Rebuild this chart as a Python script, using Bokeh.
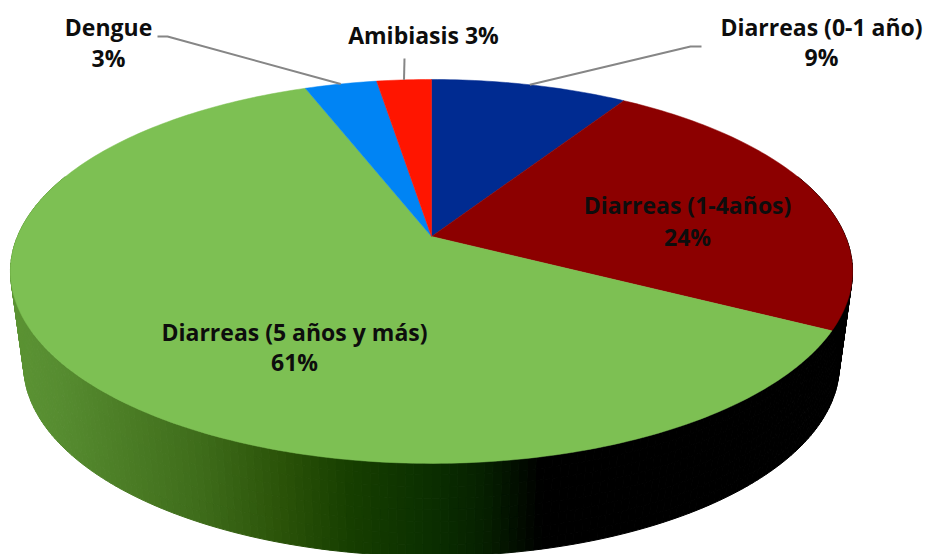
import numpy as np
from bokeh.plotting import figure
from bokeh.models import Range1d
from bokeh.core.properties import value
from bokeh.embed import file_html
from bokeh.resources import INLINE

# data, clockwise from 12 o'clock
categories = ["Diarreas (0-1 año)", "Diarreas (1-4años)", "Diarreas (5 años y más)", "Dengue", "Amibiasis"]
shares = [9.0, 23.7, 61.5, 3.3, 2.5]
percent_labels = ["9%", "24%", "61%", "3%", "3%"]
colors = ["#002B91", "#8C0000", "#7DC053", "#0084F4", "#FF1500"]

# shading of the rim, left to right (pixel x, colour)
rim_x = [11, 60, 120, 200, 283, 350, 433, 483, 516, 540, 860]
rim_rgb = [(92, 148, 52), (86, 140, 48), (76, 126, 38), (62, 108, 26), (42, 82, 8),
           (22, 62, 0), (10, 46, 0), (6, 32, 0), (2, 14, 0), (0, 0, 0), (0, 0, 0)]

# projection of the disc
K = 0.182
TOP = dict(x0=431.0, y0=236.0, a=414.0, b=185.6)
BOT = dict(x0=431.0, y0=330.0, a=401.0, b=184.6)
SUB = np.linspace(0, 1, 9)


def project(theta, plane):
    u, v = np.sin(theta), np.cos(theta)
    d = 1 + K * v
    return plane["x0"] + plane["a"] * u / d, plane["y0"] - plane["b"] * v / d


p = figure(width=925, height=554, output_backend="svg", toolbar_location=None,
           x_range=Range1d(0, 925), y_range=Range1d(554, 0), min_border=0,
           outline_line_color=None, background_fill_color="white", border_fill_color="white")
p.axis.visible = False
p.grid.visible = False

# rim: lower half of the disc only, cut into small cells shaded by their x
edges = np.radians(np.arange(70, 290.01, 1.0))
xs, ys, fills = [], [], []
for t0, t1 in zip(edges[:-1], edges[1:]):
    ax, ay = project(t0, TOP)
    bx, by = project(t1, TOP)
    cx, cy = project(t1, BOT)
    dx, dy = project(t0, BOT)
    for s0, s1 in zip(SUB[:-1], SUB[1:]):
        qx = [ax + (dx - ax) * s0, bx + (cx - bx) * s0, bx + (cx - bx) * s1, ax + (dx - ax) * s1]
        qy = [ay + (dy - ay) * s0, by + (cy - by) * s0, by + (cy - by) * s1, ay + (dy - ay) * s1]
        xs.append(qx)
        ys.append(qy)
        m = sum(qx) / 4
        rgb = [int(round(np.interp(m, rim_x, [c[i] for c in rim_rgb]))) for i in range(3)]
        fills.append("#%02x%02x%02x" % tuple(rgb))
p.patches(xs, ys, fill_color=fills, line_color=fills, line_width=1)

# top face
cum = np.cumsum([0] + shares) / sum(shares) * 2 * np.pi
for s, e, c in zip(cum[:-1], cum[1:], colors):
    t = np.linspace(s, e, max(int(np.degrees(e - s)), 2) + 1)
    x, y = project(t, TOP)
    p.patch(np.r_[TOP["x0"], x], np.r_[TOP["y0"], y], fill_color=c, line_color=c, line_width=0.5)

# leader lines: from the slice midpoint to the label
mid = (cum[:-1] + cum[1:]) / 2
leaders = {0: ([701, 690], [46, 46]), 3: ([157, 167], [36, 36]), 4: ([404], [58])}
for i, (lx, ly) in leaders.items():
    mx, my = project(mid[i], TOP)
    p.line(lx + [float(mx)], ly + [float(my)], line_color="#868686", line_width=2)

# labels
style = dict(text_font=value("Open Sans"), text_font_style="bold", text_font_size="23px",
             text_color="#0D0D0D", text_align="center", text_baseline="middle", y_offset=-2.5)
placed = [(821, 29, categories[0], 59, percent_labels[0]),
          (687, 207, categories[1], 239, percent_labels[1]),
          (294, 334, categories[2], 364, percent_labels[2]),
          (108, 29, categories[3], 60, percent_labels[3])]
for x, y1, s1, y2, s2 in placed:
    p.text([x], [y1], text=[s1], **style)
    p.text([x], [y2], text=[s2], **style)
p.text([423], [37], text=[categories[4] + " " + percent_labels[4]], **style)

open("out.html", "w").write(file_html(p, INLINE))
